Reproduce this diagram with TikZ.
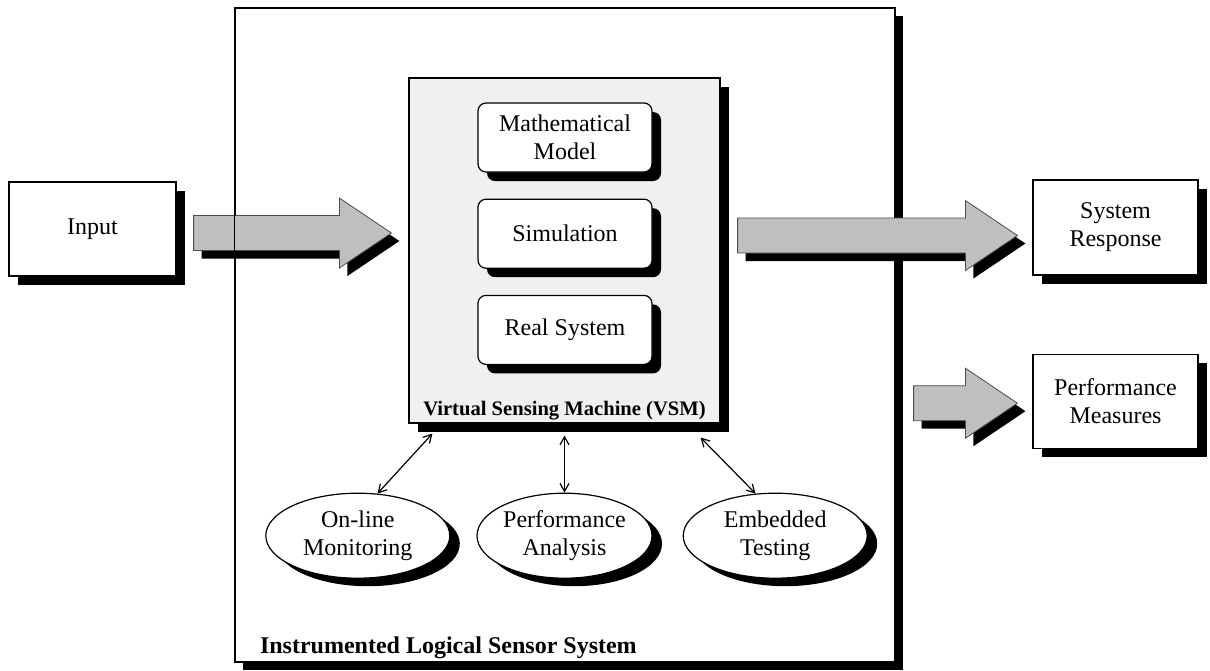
\documentclass[tikz,border=0pt]{standalone}
\usepackage{fontspec}
\setmainfont{Liberation Serif}
\usetikzlibrary{arrows.meta,positioning,calc,shapes.geometric,shadows}

\tikzset{
  shad/.style={drop shadow={shadow xshift=#1,shadow yshift=-#1,fill=black,opacity=1}},
  shad/.default=4.5pt,
  box/.style={draw,fill=white,line width=0.6pt,align=center,inner sep=0pt,
    font=\fontsize{12}{14}\selectfont},
  inbox/.style={box,shad,rounded corners=4pt,minimum width=87pt,minimum height=34.5pt},
  oval/.style={box,ellipse,minimum width=92pt,minimum height=42.5pt,
    drop shadow={shadow xshift=5pt,shadow yshift=-4pt,fill=black,opacity=1}},
  bigarrow/.style={fill=gray!50,draw=gray!60!black,line width=0.4pt,shad=4pt},
  link/.style={<->,>={Straight Barb[length=4pt,width=4.5pt]},line width=0.6pt}
}

% fat grey arrow from tail #1 to tip #2
\newcommand{\fatarrow}[2]{%
  \path[bigarrow] ($(#1)+(0,-17.5)$) -- ($(#2)+(-52,-17.5)$) -- ($(#2)+(-52,-35)$) -- (#2)
    -- ($(#2)+(-52,35)$) -- ($(#2)+(-52,17.5)$) -- ($(#1)+(0,17.5)$) -- cycle;}

\begin{document}
\begin{tikzpicture}[x=0.5pt,y=-0.5pt]
  \useasboundingbox (0,0) rectangle (1210,670);

  % the whole sensor system
  \node[box,shad=4pt,minimum width=330pt,minimum height=327pt] (ils) at (565,335) {};
  \node[anchor=base west,font=\bfseries\fontsize{12}{14}\selectfont] (ilslbl) at (253,653)
    {Instrumented Logical Sensor System};

  % virtual sensing machine
  \node[box,shad,fill=gray!12,minimum width=155.5pt,minimum height=172.5pt] (vsm) at (564.5,250.5) {};
  \node[inbox] (math) at (565,137.5) {Mathematical\\Model};
  \node[inbox,below=13pt of math] (sim) {Simulation};
  \node[inbox,below=13pt of sim] (real) {Real System};
  \node[anchor=base,font=\bfseries\fontsize{10.3}{12}\selectfont] (vsmlbl) at ([yshift=4pt]vsm.south)
    {Virtual Sensing Machine (VSM)};

  % tools below the VSM
  \node[oval,minimum width=87.5pt,below=34.5pt of vsm] (perfan) {Performance\\Analysis};
  \node[oval,left=13pt of perfan] (online) {On-line\\Monitoring};
  \node[oval,right=15pt of perfan] (embed) {Embedded\\Testing};
  \draw[link] ([xshift=12pt,yshift=-5pt]vsm.south west) -- (online.65);
  \draw[link] ([yshift=-6pt]vsm.south) -- (perfan.north);
  \draw[link] ([xshift=-10pt,yshift=-7pt]vsm.south east) -- (embed.115);

  % input and outputs
  \node[box,shad,minimum width=83.5pt,minimum height=47pt] (in) at (92.5,229) {Input};
  \node[box,shad,minimum width=82.5pt,minimum height=47.5pt] (sysresp) at (1115.5,227.5) {System\\Response};
  \node[box,shad,minimum width=82.5pt,minimum height=47pt,below=39pt of sysresp] (perfmeas)
    {Performance\\Measures};

  % fat arrows
  \coordinate (inA) at ([xshift=8.5pt,yshift=-2pt]in.east);
  \coordinate (inB) at ($(vsm.west |- inA)+(-17,0)$);
  \fatarrow{inA}{inB}
  \draw[line width=0.6pt] (ils.north west) -- (ils.south west);
  \coordinate (outB) at ([xshift=-7.5pt,yshift=-4pt]sysresp.west);
  \coordinate (outA) at ($(vsm.east |- outB)+(17,0)$);
  \fatarrow{outA}{outB}
  \coordinate (pmB) at ([xshift=-7.5pt,yshift=-1pt]perfmeas.west);
  \coordinate (pmA) at ($(ils.east |- pmB)+(18,0)$);
  \fatarrow{pmA}{pmB}
\end{tikzpicture}
\end{document}
